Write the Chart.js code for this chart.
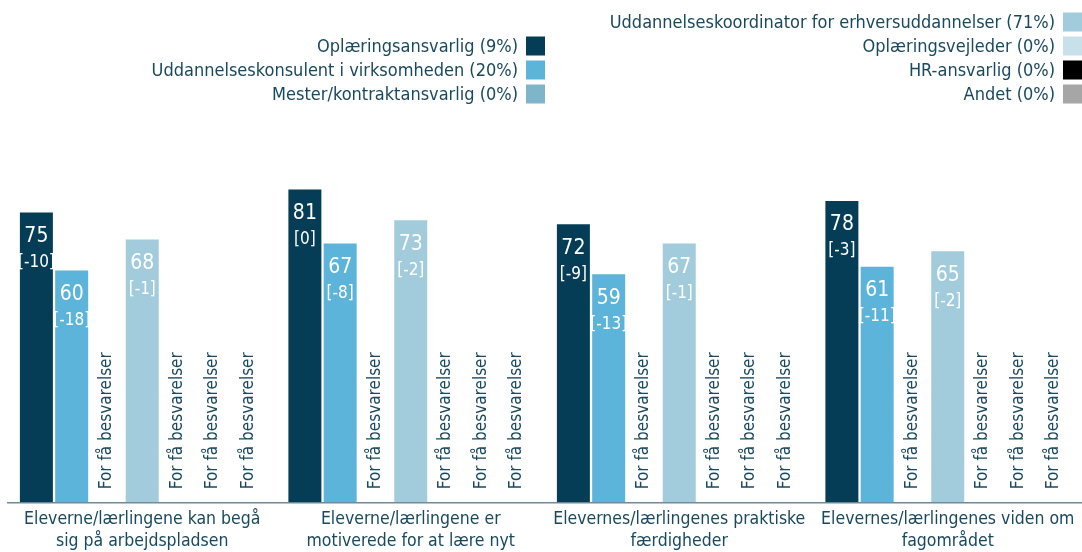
<!DOCTYPE html>
<html><head><meta charset="utf-8">
<script src="https://cdn.jsdelivr.net/npm/chart.js@4"></script>
<style>html,body{margin:0;padding:0;background:#fff;overflow:hidden}</style>
</head><body>
<canvas id="c" width="1082" height="552"></canvas>
<script>
// ---- data ----
const categories = [
  ["Eleverne/lærlingene kan begå", "sig på arbejdspladsen"],
  ["Eleverne/lærlingene er", "motiverede for at lære nyt"],
  ["Elevernes/lærlingenes praktiske", "færdigheder"],
  ["Elevernes/lærlingenes viden om", "fagområdet"]
];
const seriesNames = [
  "Oplæringsansvarlig (9%)",
  "Uddannelseskonsulent i virksomheden (20%)",
  "Mester/kontraktansvarlig (0%)",
  "Uddannelseskoordinator for erhversuddannelser (71%)",
  "Oplæringsvejleder (0%)",
  "HR-ansvarlig (0%)",
  "Andet (0%)"
];
const oplaeringsansvarlig      = [75, 81, 72, 78];
const oplaeringsansvarligDiff  = [-10, 0, -9, -3];
const uddKonsulent             = [60, 67, 59, 61];
const uddKonsulentDiff         = [-18, -8, -13, -11];
const mester                   = [null, null, null, null];
const uddKoordinator           = [68, 73, 67, 65];
const uddKoordinatorDiff       = [-1, -2, -1, -2];
const oplaeringsvejleder       = [null, null, null, null];
const hrAnsvarlig              = [null, null, null, null];
const andet                    = [null, null, null, null];
const noDiff                   = [null, null, null, null];
const tooFewText = "For få besvarelser";

// ---- styles ----
const FONT = "'DejaVu Sans Condensed', 'DejaVu Sans', sans-serif";
const TEXT = "#18495e";
const colors = ["#053d56", "#5db4da", "#7fb5c9", "#a2ccdb", "#c8e0ea", "#000000", "#a6a6a6"];
const seriesValues = [oplaeringsansvarlig, uddKonsulent, mester, uddKoordinator, oplaeringsvejleder, hrAnsvarlig, andet];
const seriesDiffs  = [oplaeringsansvarligDiff, uddKonsulentDiff, noDiff, uddKoordinatorDiff, noDiff, noDiff, noDiff];

const legendPlugin = {
  id: 'customLegend',
  afterDraw(chart) {
    const ctx = chart.ctx;
    ctx.save();
    ctx.font = "18px " + FONT;
    ctx.textAlign = 'right';
    ctx.textBaseline = 'middle';
    // column 1: series 0..2 ; column 2: series 3..6
    const col1 = {boxX: 526, rows: [46, 70, 94], idx: [0, 1, 2]};
    const col2 = {boxX: 1063, rows: [22, 46, 70, 94], idx: [3, 4, 5, 6]};
    [col1, col2].forEach(col => {
      col.idx.forEach((si, k) => {
        const cy = col.rows[k];
        ctx.fillStyle = colors[si];
        ctx.fillRect(col.boxX, cy - 9.5, 19, 19);
        ctx.fillStyle = TEXT;
        ctx.fillText(seriesNames[si], col.boxX - 8, cy + 1);
      });
    });
    ctx.restore();
  }
};

const labelPlugin = {
  id: 'barLabels',
  afterDatasetsDraw(chart) {
    const ctx = chart.ctx;
    const area = chart.chartArea;
    ctx.save();
    chart.data.datasets.forEach((ds, di) => {
      const meta = chart.getDatasetMeta(di);
      meta.data.forEach((bar, i) => {
        const v = ds.data[i];
        if (v == null) {
          ctx.save();
          ctx.translate(bar.x, area.bottom - 13);
          ctx.rotate(-Math.PI / 2);
          ctx.font = "17px " + FONT;
          ctx.fillStyle = TEXT;
          ctx.textAlign = 'left';
          ctx.textBaseline = 'middle';
          ctx.fillText(tooFewText, 0, 0);
          ctx.restore();
        } else {
          ctx.fillStyle = '#ffffff';
          ctx.textAlign = 'center';
          ctx.textBaseline = 'middle';
          ctx.font = "21px " + FONT;
          ctx.fillText(String(v), bar.x, bar.y + 24);
          const d = seriesDiffs[di][i];
          if (d != null) {
            ctx.font = "17px " + FONT;
            ctx.fillText('[' + d + ']', bar.x, bar.y + 50);
          }
        }
      });
    });
    ctx.restore();
  }
};

new Chart(document.getElementById('c'), {
  type: 'bar',
  data: {
    labels: categories,
    datasets: seriesNames.map((name, si) => ({
      label: name,
      data: seriesValues[si],
      backgroundColor: colors[si],
      borderWidth: 0,
      categoryPercentage: 0.92,
      barPercentage: 0.935
    }))
  },
  options: {
    responsive: false,
    animation: false,
    layout: { padding: { top: 116, left: 8, right: 0, bottom: -6 } },
    plugins: { legend: { display: false }, tooltip: { enabled: false } },
    scales: {
      y: { display: false, min: 0, max: 100 },
      x: {
        grid: { display: false, drawTicks: false },
        border: { display: true, color: '#6f8a99', width: 1.5 },
        ticks: {
          color: TEXT,
          font: { family: FONT, size: 17.5, lineHeight: 1.25 },
          padding: 6,
          maxRotation: 0,
          autoSkip: false
        }
      }
    }
  },
  plugins: [labelPlugin, legendPlugin]
});
</script>
</body></html>
